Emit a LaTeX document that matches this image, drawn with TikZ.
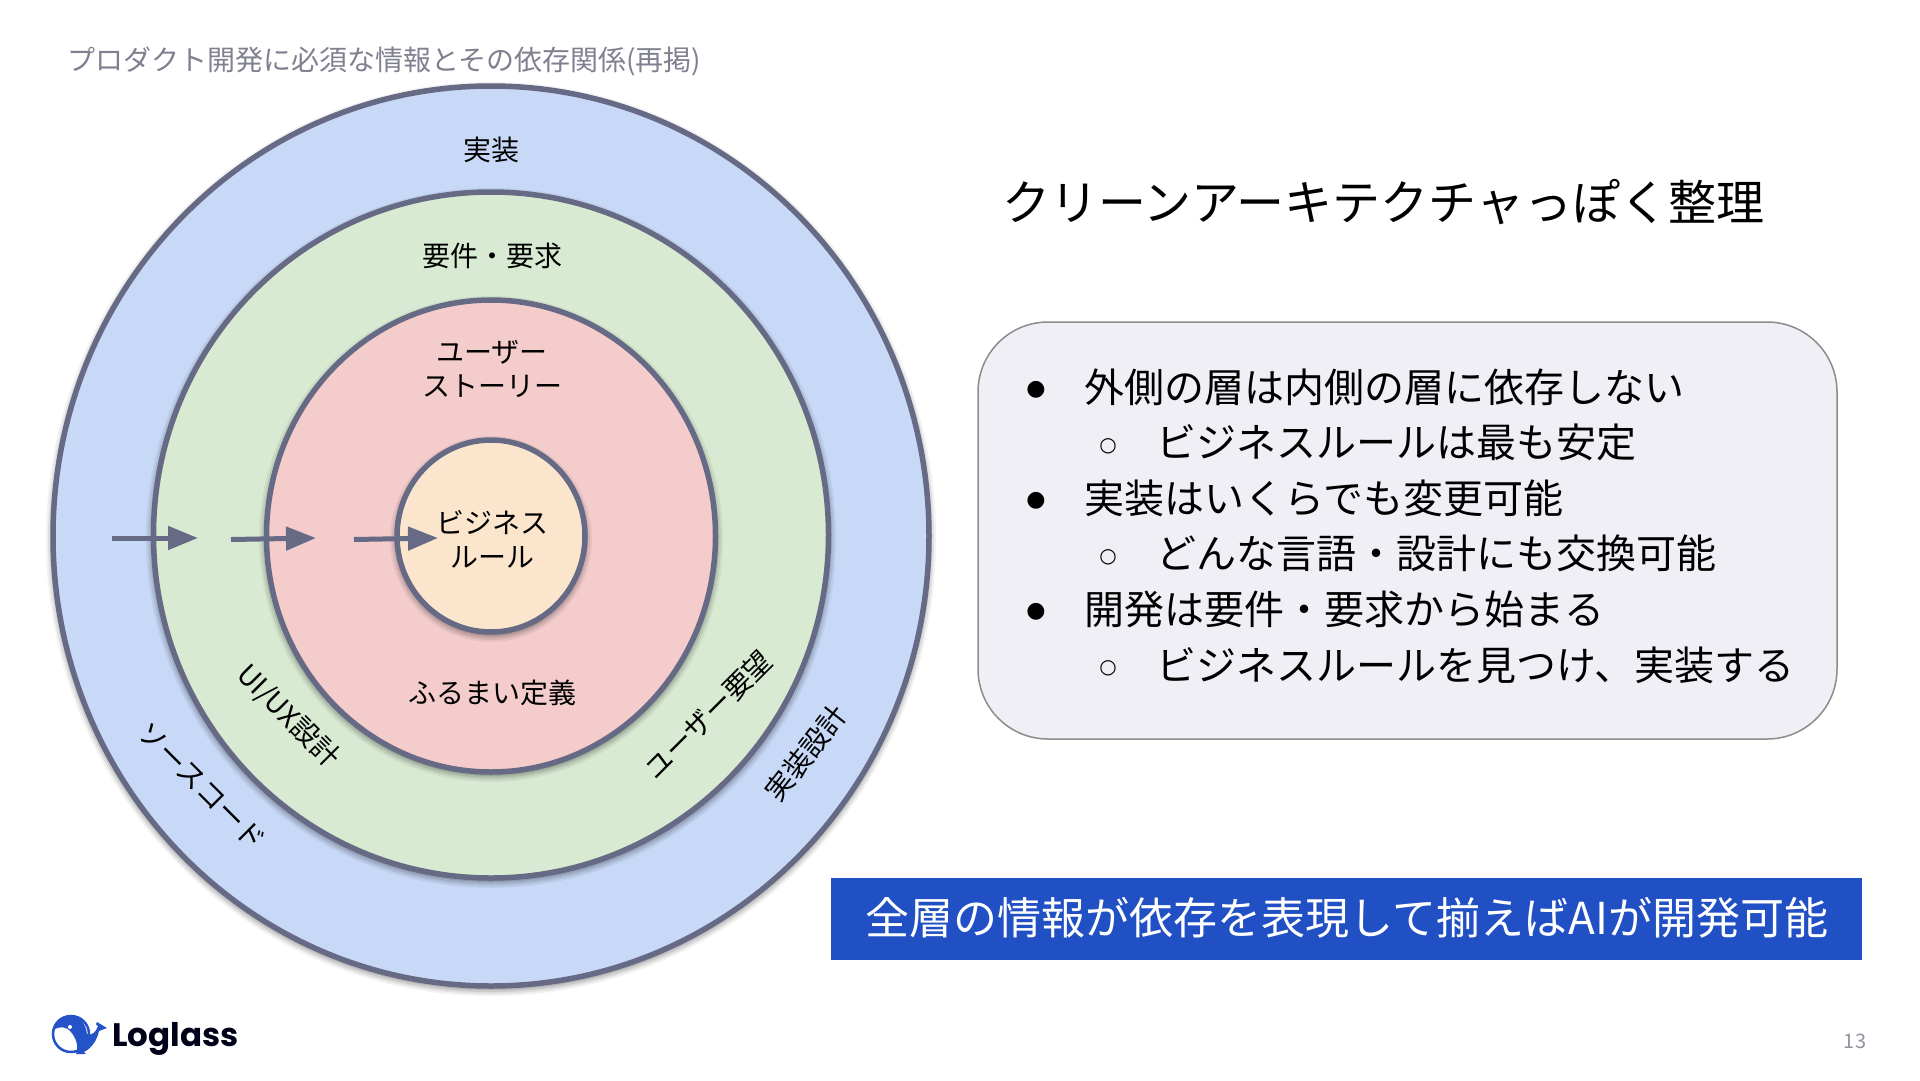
\documentclass[tikz,border=0pt]{standalone}
\usepackage{fontspec}
\setmainfont{Noto Sans CJK JP}
\newfontfamily\symfont{DejaVu Sans}
\newfontfamily\logofont{Poppins}
\usetikzlibrary{shapes.geometric,arrows.meta}
\definecolor{ringline}{HTML}{666A85}
\definecolor{outerfill}{HTML}{C7D9F7}
\definecolor{greenfill}{HTML}{D9EAD3}
\definecolor{pinkfill}{HTML}{F4CCCC}
\definecolor{peachfill}{HTML}{FCE5CD}
\definecolor{boxfill}{HTML}{EFEFF5}
\definecolor{bannerblue}{HTML}{2050C4}
\definecolor{logoblue}{HTML}{2353C6}
\definecolor{greytext}{HTML}{7F8090}
\newcommand{\softshadow}[4]{%
  \foreach \d/\o in {7/.05,5/.07,3/.09,1/.11}{
    \fill[black,opacity=\o] (#1,#2+3) ellipse [x radius=#3+\d,y radius=#4+\d];
  }}
\tikzset{
  x=1pt,y=-1pt,
  ring/.style={ellipse,draw=ringline,line width=5.5pt,inner sep=0pt,outer sep=0pt},
  lab/.style={font=\fontsize{28}{34}\selectfont,align=center,inner sep=0pt,text=black},
  arrowline/.style={draw=ringline,line width=5pt,-{Triangle[length=30pt,width=23pt]}},
  bulletline/.style={font=\fontsize{40}{48}\selectfont,anchor=west,inner sep=0pt,text=black},
  bigdot/.style={font=\symfont\fontsize{22}{26}\selectfont,inner sep=0pt,text=black},
  smalldot/.style={font=\symfont\fontsize{20}{24}\selectfont,inner sep=0pt,text=black},
}
\begin{document}
\begin{tikzpicture}
\useasboundingbox (0,0) rectangle (1920,1080);
\fill[white] (0,0) rectangle (1920,1080);

\node[font=\fontsize{28}{33}\selectfont,text=greytext,anchor=west,inner sep=0pt] (header) at (67,61) {プロダクト開発に必須な情報とその依存関係(再掲)};

\softshadow{491}{536}{438}{450}
\node[ring,fill=outerfill,minimum width=876pt,minimum height=900pt] (outer) at (491,536) {};
\softshadow{491}{535}{338}{343}
\node[ring,fill=greenfill,minimum width=675pt,minimum height=686pt] (green) at (491,535) {};
\softshadow{491}{536}{225}{236}
\node[ring,fill=pinkfill,minimum width=449pt,minimum height=472pt] (pink) at (491,536) {};
\softshadow{491}{536}{94}{96}
\node[ring,fill=peachfill,minimum width=188pt,minimum height=192pt] (core) at (491,536) {};

\node[lab] (impl) at (491.5,150) {実装};
\node[lab] (req) at (492,256) {要件・要求};
\node[lab] (story) at (492,369) {ユーザー\\ストーリー};
\node[lab] (biz) at (492,539.5) {ビジネス\\ルール};
\node[lab] (behav) at (492,693) {ふるまい定義};
\node[lab,rotate=-45] (uiux) at (288,716) {UI/UX設計};
\node[lab,rotate=-45] (src) at (202,786) {ソースコード};
\node[lab,rotate=45] (wish) at (708,715) {ユーザー要望};
\node[lab,rotate=52] (impld) at (806,753) {実装設計};

\coordinate (a1s) at (112,538); \coordinate (a1e) at (198,538);
\coordinate (a2s) at (231,539.5); \coordinate (a2e) at (316,538);
\coordinate (a3s) at (354,539.5); \coordinate (a3e) at (438,538);
\draw[arrowline] (a1s) -- (a1e);
\draw[arrowline] (a2s) -- (a2e);
\draw[arrowline] (a3s) -- (a3e);

\node[font=\fontsize{48}{56}\selectfont,anchor=west,inner sep=0pt,text=black] (title) at (1002,202.5) {クリーンアーキテクチャっぽく整理};

\draw[draw=black!45,fill=boxfill,line width=1.5pt,rounded corners=70pt] (978,322) rectangle (1837,739);

\node[bigdot] (d1) at (1036,390) {●};
\node[bigdot] (d2) at (1036,501) {●};
\node[bigdot] (d3) at (1036,612) {●};
\node[smalldot] (c1) at (1108,446) {○};
\node[smalldot] (c2) at (1108,557) {○};
\node[smalldot] (c3) at (1108,668) {○};
\node[bulletline] (l1) at (1084,387) {外側の層は内側の層に依存しない};
\node[bulletline] (l2) at (1156,442.5) {ビジネスルールは最も安定};
\node[bulletline] (l3) at (1084,498) {実装はいくらでも変更可能};
\node[bulletline] (l4) at (1156,553.5) {どんな言語・設計にも交換可能};
\node[bulletline] (l5) at (1084,609) {開発は要件・要求から始まる};
\node[bulletline] (l6) at (1156,665) {ビジネスルールを見つけ、実装する};

\fill[bannerblue] (831,878) rectangle (1862,960);
\node[font=\fontsize{44}{52}\selectfont,text=white,inner sep=0pt] (banner) at (1347,918) {全層の情報が依存を表現して揃えばAIが開発可能};

% logo
\draw[logoblue,line width=2.5pt,fill=white] (71,1034) circle [radius=18];
\fill[logoblue] (53,1030) .. controls (55,1018) and (65,1015) .. (72,1016)
  .. controls (82,1017) and (86,1026) .. (87,1034)
  .. controls (92,1036) and (96,1032) .. (98,1026)
  .. controls (96,1025) and (95,1024) .. (97,1022) -- (107,1028) -- (99,1031)
  .. controls (97,1040) and (92,1048) .. (84,1052) -- (86,1054) -- (76,1054)
  .. controls (79,1046) and (76,1038) .. (71,1032)
  .. controls (66,1026) and (60,1026) .. (53,1030) -- cycle;
\fill[white] (70,1027) circle [radius=2];
\node[font=\logofont\bfseries\fontsize{32.5}{40}\selectfont,text=black!90!blue,anchor=west,inner sep=0pt] (logo) at (112,1039) {Loglass};

\node[font=\fontsize{20}{24}\selectfont,text=greytext!85,inner sep=0pt] (page) at (1855,1041) {13};
\end{tikzpicture}
\end{document}
